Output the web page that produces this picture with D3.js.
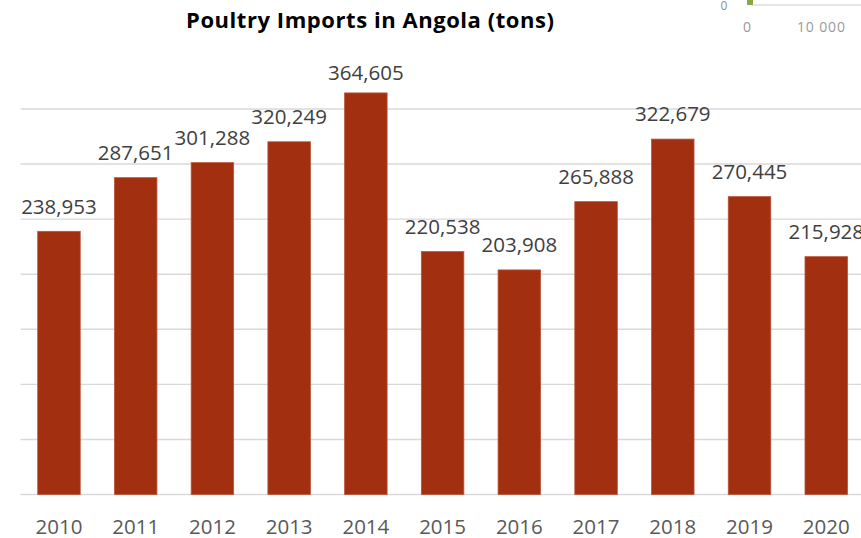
<!DOCTYPE html>
<html>
<head>
<meta charset="utf-8">
<script src="https://cdn.jsdelivr.net/npm/d3@7.9.0/dist/d3.min.js"></script>
<style>
  html, body { margin: 0; padding: 0; background: #fff; }
  svg { display: block; }
</style>
</head>
<body>
<svg id="chart" width="861" height="538"></svg>
<script>
const years = ['2010', '2011', '2012', '2013', '2014', '2015', '2016', '2017', '2018', '2019', '2020'];
const imports = [238953, 287651, 301288, 320249, 364605, 220538, 203908, 265888, 322679, 270445, 215928];
const gridTicks = [0, 50000, 100000, 150000, 200000, 250000, 300000, 350000];

const svg = d3.select('#chart');
const font = '"Open Sans", "Liberation Sans", sans-serif';

// scales
const x = d3.scaleBand()
    .domain(years)
    .range([20.6, 864.6])
    .paddingInner(0.446)
    .paddingOuter(0.223);

const y = d3.scaleLinear()
    .domain([0, 350000])
    .range([494.5, 109]);

// gridlines
svg.append('g')
    .selectAll('line')
    .data(gridTicks)
    .join('line')
    .attr('x1', 20.6)
    .attr('x2', 861)
    .attr('y1', d => y(d))
    .attr('y2', d => y(d))
    .attr('stroke', '#d9d9d9')
    .attr('stroke-width', 1.4);

// bars
svg.append('g')
    .selectAll('rect')
    .data(imports)
    .join('rect')
    .attr('x', (d, i) => x(years[i]))
    .attr('y', d => y(d))
    .attr('width', x.bandwidth())
    .attr('height', d => y(0) - y(d))
    .attr('fill', '#a32f11')
    .attr('stroke', '#b9543a')
    .attr('stroke-width', 0.8);

// value labels (kept inside the plot area at the top)
svg.append('g')
    .selectAll('text')
    .data(imports)
    .join('text')
    .attr('x', (d, i) => x(years[i]) + x.bandwidth() / 2)
    .attr('y', d => Math.max(y(d) - 17.7, 80))
    .attr('text-anchor', 'middle')
    .attr('font-family', font)
    .attr('font-size', 20.5)
    .attr('fill', '#404040')
    .text(d => d3.format(',')(d));

// x axis labels
svg.append('g')
    .selectAll('text')
    .data(years)
    .join('text')
    .attr('x', d => x(d) + x.bandwidth() / 2)
    .attr('y', 534)
    .attr('text-anchor', 'middle')
    .attr('font-family', font)
    .attr('font-size', 20.5)
    .attr('fill', '#595959')
    .text(d => d);

// title
svg.append('text')
    .attr('x', 370)
    .attr('y', 27.5)
    .attr('text-anchor', 'middle')
    .attr('font-family', font)
    .attr('font-weight', 'bold')
    .attr('font-size', 22)
    .attr('textLength', 368)
    .attr('lengthAdjust', 'spacing')
    .attr('fill', '#000')
    .text('Poultry Imports in Angola (tons)');

// fragment of a neighbouring chart in the top-right corner
const frag = svg.append('g');
frag.append('line')
    .attr('x1', 752).attr('x2', 861).attr('y1', 5).attr('y2', 5)
    .attr('stroke', '#dcdcdc').attr('stroke-width', 1.5);
frag.append('rect')
    .attr('x', 747).attr('y', 0).attr('width', 6).attr('height', 5)
    .attr('fill', '#8aa84a');
frag.append('text')
    .attr('x', 724).attr('y', 10)
    .attr('text-anchor', 'middle')
    .attr('font-family', font).attr('font-size', 12)
    .attr('fill', '#8c8c8c').text('0');
frag.append('text')
    .attr('x', 747).attr('y', 31.5)
    .attr('text-anchor', 'middle')
    .attr('font-family', font).attr('font-size', 14)
    .attr('fill', '#999').text('0');
frag.append('text')
    .attr('x', 821).attr('y', 31.5)
    .attr('text-anchor', 'middle')
    .attr('font-family', font).attr('font-size', 14)
    .attr('textLength', 48)
    .attr('lengthAdjust', 'spacing')
    .attr('fill', '#999').text('10 000');
</script>
</body>
</html>
